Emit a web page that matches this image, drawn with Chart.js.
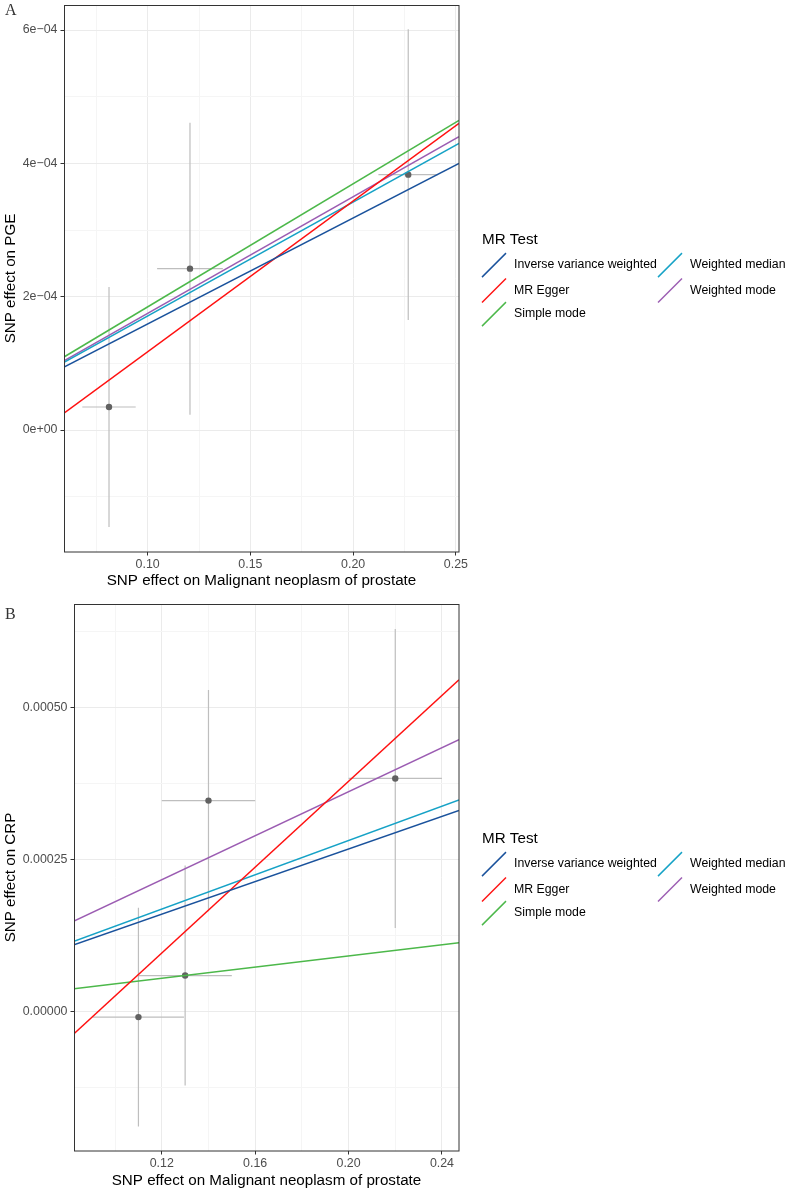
<!DOCTYPE html>
<html><head><meta charset="utf-8">
<script src="https://cdn.jsdelivr.net/npm/chart.js@4"></script>
<style>html,body{margin:0;padding:0;background:#fff;}canvas{display:block;}</style>
</head><body>
<canvas id="cA" width="790" height="592"></canvas>
<canvas id="cB" width="790" height="601"></canvas>
<script>
// ---- shared ----
const methods = ["Inverse variance weighted", "MR Egger", "Simple mode", "Weighted median", "Weighted mode"];
const methodColors = ["#1A529C", "#FF1010", "#4CB84A", "#16A2C6", "#9B5CB2"];
const legendTitle = "MR Test";
const xTitle = "SNP effect on Malignant neoplasm of prostate";

// ---- Panel A: PGE ----
const pgeExposure   = [0.0812, 0.1206, 0.2268];
const pgeExposureSE = [0.0130, 0.0160, 0.0145];
const pgeOutcome    = [3.45e-5, 2.42e-4, 3.83e-4];
const pgeOutcomeSE  = [1.80e-4, 2.19e-4, 2.18e-4];
const pgeSlopes     = [1.59e-3, 2.263e-3, 1.847e-3, 1.71e-3, 1.75e-3];
const pgeIntercepts = [0, -1.09e-4, 0, 0, 0];
const pgeXRange = [0.0593, 0.2515];
const pgeYRange = [-1.83e-4, 6.375e-4];
const pgeXTicks = [0.10, 0.15, 0.20, 0.25];
const pgeXTickLabels = ["0.10", "0.15", "0.20", "0.25"];
const pgeXMinor = [0.075, 0.125, 0.175, 0.225];
const pgeYTicks = [0, 2e-4, 4e-4, 6e-4];
const pgeYTickLabels = ["0e+00", "2e\u221204", "4e\u221204", "6e\u221204"];
const pgeYMinor = [-1e-4, 1e-4, 3e-4, 5e-4];

// ---- Panel B: CRP ----
const crpExposure   = [0.110, 0.130, 0.140, 0.220];
const crpExposureSE = [0.0195, 0.020, 0.020, 0.020];
const crpOutcome    = [-0.0000087, 0.0000597, 0.0003475, 0.000384];
const crpOutcomeSE  = [0.000180, 0.000181, 0.000182, 0.000246];
const crpSlopes     = [0.00134, 0.003531, 0.000459, 0.00141, 0.00181];
const crpIntercepts = [0, -0.000327, 0, 0, 0];
const crpXRange = [0.0824, 0.2473];
const crpYRange = [-0.000229, 0.000671];
const crpXTicks = [0.12, 0.16, 0.20, 0.24];
const crpXTickLabels = ["0.12", "0.16", "0.20", "0.24"];
const crpXMinor = [0.10, 0.14, 0.18, 0.22];
const crpYTicks = [0, 0.00025, 0.0005];
const crpYTickLabels = ["0.00000", "0.00025", "0.00050"];
const crpYMinor = [-0.000125, 0.000125, 0.000375, 0.000625];

const SANS = "'Liberation Sans', Arial, sans-serif";

function near(a, b) { return Math.abs(a - b) < 1e-12; }

function makeScale(range, major, labels, minor, title, axisSize, isX, titlePad) {
  const isMajor = v => major.some(m => near(m, v));
  return {
    type: 'linear',
    min: range[0], max: range[1],
    afterBuildTicks: s => {
      s.ticks = major.concat(minor).sort((a, b) => a - b).map(v => ({ value: v }));
    },
    afterFit: s => {
      if (isX) s.height = axisSize; else s.width = axisSize;
      s.paddingTop = 0; s.paddingBottom = 0; s.paddingLeft = 0; s.paddingRight = 0;
    },
    ticks: {
      autoSkip: false, maxRotation: 0, minRotation: 0,
      padding: isX ? 2 : 3,
      color: '#4D4D4D',
      font: { family: SANS, size: 12.4 },
      callback: v => { const i = major.findIndex(m => near(m, v)); return i >= 0 ? labels[i] : ''; }
    },
    grid: {
      color: c => (c.tick && isMajor(c.tick.value)) ? '#EBEBEB' : '#F5F5F5',
      lineWidth: 1,
      tickLength: 3.5,
      tickColor: c => (c.tick && isMajor(c.tick.value)) ? '#333333' : 'rgba(0,0,0,0)',
      tickWidth: 1
    },
    border: { display: false },
    title: { display: true, text: title, color: '#000', font: { family: SANS, size: 15.2 }, padding: titlePad }
  };
}

const frameLegendPlugin = {
  id: 'frameLegend',
  afterDraw(chart, args, opts) {
    const ctx = chart.ctx, a = chart.chartArea;
    ctx.save();
    // panel border
    ctx.strokeStyle = '#333333'; ctx.lineWidth = 1;
    ctx.strokeRect(Math.round(a.left) + 0.5, Math.round(a.top) + 0.5, Math.round(a.right - a.left) - 1 + 0.5, Math.round(a.bottom - a.top) - 1 + 0.5);
    // panel letter
    ctx.fillStyle = '#333333';
    ctx.font = "16px 'Liberation Serif', 'Times New Roman', serif";
    ctx.textBaseline = 'alphabetic'; ctx.textAlign = 'left';
    ctx.fillText(opts.letter, 5, opts.letterY);
    // legend
    const cy = (a.top + a.bottom) / 2;
    ctx.fillStyle = '#000';
    ctx.textBaseline = 'middle';
    ctx.font = "15.2px " + SANS;
    ctx.fillText(legendTitle, 482, cy - 39);
    const rowOff = [-13.4, 12, 35.6];
    const keyX = [482, 658], txtX = [514, 690];
    ctx.font = "12.3px " + SANS;
    methods.forEach((m, i) => {
      const col = i < 3 ? 0 : 1, row = i < 3 ? i : i - 3;
      const y = cy + rowOff[row];
      ctx.strokeStyle = methodColors[i]; ctx.lineWidth = 1.5;
      ctx.beginPath(); ctx.moveTo(keyX[col], y + 12); ctx.lineTo(keyX[col] + 24, y - 12); ctx.stroke();
      ctx.fillStyle = '#000';
      ctx.fillText(m, txtX[col], y);
    });
    ctx.restore();
  }
};

function makeChart(id, d) {
  const errData = [];
  d.ex.forEach((x, i) => {
    const y = d.out[i];
    errData.push({ x: x, y: y - d.outSE[i] }, { x: x, y: y + d.outSE[i] }, { x: x, y: null });
    errData.push({ x: x - d.exSE[i], y: y }, { x: x + d.exSE[i], y: y }, { x: x, y: null });
  });
  const datasets = methods.map((m, i) => ({
    label: m, type: 'scatter', showLine: true, order: 0,
    data: d.xr.map(x => ({ x: x, y: d.ic[i] + d.sl[i] * x })),
    borderColor: methodColors[i], borderWidth: 1.5, pointRadius: 0, fill: false
  }));
  datasets.push({
    label: 'points', type: 'scatter', order: 1,
    data: d.ex.map((x, i) => ({ x: x, y: d.out[i] })),
    backgroundColor: '#616161', borderWidth: 0, pointRadius: 3.2
  });
  datasets.push({
    label: 'errors', type: 'scatter', showLine: true, spanGaps: false, order: 2,
    data: errData, borderColor: '#BEBEBE', borderWidth: 1.2, pointRadius: 0
  });
  return new Chart(document.getElementById(id), {
    type: 'scatter',
    data: { datasets },
    options: {
      responsive: false, animation: false, events: [],
      layout: { padding: { top: d.padTop, right: 331, left: 0, bottom: 0 } },
      plugins: { legend: { display: false }, tooltip: { enabled: false }, frameLegend: { letter: d.letter, letterY: d.letterY } },
      scales: {
        x: makeScale(d.xr, d.xt, d.xl, d.xm, xTitle, d.xAxisH, true, { top: 0, bottom: d.xTitlePad }),
        y: makeScale(d.yr, d.yt, d.yl, d.ym, d.yTitle, d.yAxisW, false, { top: 2, bottom: 0 })
      }
    },
    plugins: [frameLegendPlugin]
  });
}

makeChart('cA', {
  ex: pgeExposure, exSE: pgeExposureSE, out: pgeOutcome, outSE: pgeOutcomeSE,
  sl: pgeSlopes, ic: pgeIntercepts, xr: pgeXRange, yr: pgeYRange,
  xt: pgeXTicks, xl: pgeXTickLabels, xm: pgeXMinor, yt: pgeYTicks, yl: pgeYTickLabels, ym: pgeYMinor,
  yTitle: "SNP effect on PGE", letter: "A", letterY: 15,
  padTop: 5, xAxisH: 40, yAxisW: 64, xTitlePad: 2
});
makeChart('cB', {
  ex: crpExposure, exSE: crpExposureSE, out: crpOutcome, outSE: crpOutcomeSE,
  sl: crpSlopes, ic: crpIntercepts, xr: crpXRange, yr: crpYRange,
  xt: crpXTicks, xl: crpXTickLabels, xm: crpXMinor, yt: crpYTicks, yl: crpYTickLabels, ym: crpYMinor,
  yTitle: "SNP effect on CRP", letter: "B", letterY: 27,
  padTop: 12, xAxisH: 42, yAxisW: 74, xTitlePad: 3.5
});
</script>
</body></html>
